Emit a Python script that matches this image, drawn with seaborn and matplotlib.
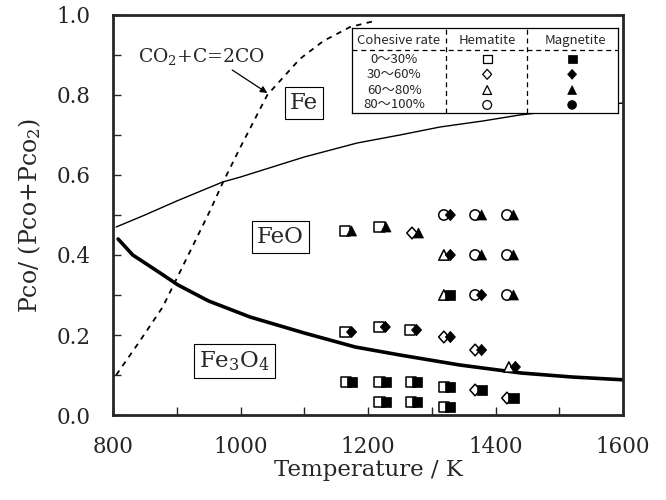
import numpy as np
import pandas as pd
import matplotlib
matplotlib.use("Agg")
import matplotlib.pyplot as plt
from matplotlib.ticker import MultipleLocator, FormatStrFormatter
from matplotlib.transforms import offset_copy, Affine2D
from matplotlib.markers import MarkerStyle
import seaborn as sns

# phase boundary Fe / FeO (thin solid)
fe_feo_T = [805, 850, 900, 972, 1000, 1100, 1183, 1250, 1313, 1380, 1438, 1520, 1600]
fe_feo_y = [0.47, 0.50, 0.535, 0.5825, 0.595, 0.645, 0.68, 0.70, 0.72, 0.735, 0.75, 0.765, 0.78]

# phase boundary FeO / Fe3O4 (thick solid)
feo_fe3o4_T = [808, 831, 874, 902, 950, 1015, 1100, 1180, 1250, 1344, 1440, 1520, 1600]
feo_fe3o4_y = [0.44, 0.40, 0.355, 0.325, 0.285, 0.245, 0.205, 0.17, 0.15, 0.125, 0.105, 0.095, 0.088]

# Boudouard equilibrium CO2 + C = 2CO (dashed)
boud_T = [805, 840, 878, 915, 952, 972, 1000, 1042, 1093, 1130, 1172, 1210]
boud_y = [0.10, 0.18, 0.27, 0.39, 0.51, 0.58, 0.67, 0.80, 0.89, 0.935, 0.97, 0.985]

rates = ['0～30%', '30～60%', '60～80%', '80～100%']
diamond = MarkerStyle('D', transform=Affine2D().scale(0.72, 0.8))
rate_markers = {'0～30%': 's', '30～60%': diamond, '60～80%': '^', '80～100%': 'o'}

# experimental points: temperature, Pco ratio, hematite class, magnetite class
pt_T = [1169, 1223, 1274, 1169, 1222, 1271, 1170, 1223, 1272, 1223, 1272,
        1324, 1373, 1423, 1324, 1373, 1423, 1324, 1373, 1423,
        1324, 1373, 1426, 1324, 1373, 1423, 1324]
pt_y = [0.46, 0.47, 0.455, 0.2075, 0.22, 0.2125, 0.0825, 0.0825, 0.0825, 0.0325, 0.0325,
        0.50, 0.50, 0.50, 0.40, 0.40, 0.40, 0.30, 0.30, 0.30,
        0.195, 0.1625, 0.12, 0.07, 0.0625, 0.0425, 0.02]
pt_hem = ['0～30%', '0～30%', '30～60%', '0～30%', '0～30%', '0～30%', '0～30%', '0～30%', '0～30%', '0～30%', '0～30%',
          '80～100%', '80～100%', '80～100%', '60～80%', '80～100%', '80～100%', '60～80%', '80～100%', '80～100%',
          '30～60%', '30～60%', '60～80%', '0～30%', '30～60%', '30～60%', '0～30%']
pt_mag = ['60～80%', '60～80%', '60～80%', '30～60%', '30～60%', '30～60%', '0～30%', '0～30%', '0～30%', '0～30%', '0～30%',
          '30～60%', '60～80%', '60～80%', '30～60%', '60～80%', '60～80%', '0～30%', '30～60%', '60～80%',
          '30～60%', '30～60%', '30～60%', '0～30%', '0～30%', '0～30%', '0～30%']

pts = pd.DataFrame({'T': pt_T, 'y': pt_y, 'hem': pt_hem, 'mag': pt_mag})

sns.set_style('ticks')
plt.rcParams['font.family'] = ['DejaVu Serif']
plt.rcParams['mathtext.fontset'] = 'dejavuserif'

fig = plt.figure(figsize=(6.66, 5), dpi=100)
ax = fig.add_axes([113 / 666, 85 / 500, 510 / 666, 400 / 500])

sns.lineplot(x=fe_feo_T, y=fe_feo_y, ax=ax, color='black', lw=1.0, sort=False)
sns.lineplot(x=feo_fe3o4_T, y=feo_fe3o4_y, ax=ax, color='black', lw=2.6, sort=False)
sns.lineplot(x=boud_T, y=boud_y, ax=ax, color='black', lw=1.3, sort=False,
             linestyle=(0, (3, 3)))

# hematite (open) slightly left, magnetite (filled) slightly right, overlapping
sns.scatterplot(data=pts, x='T', y='y', style='hem', markers=rate_markers, ax=ax,
                color='white', edgecolor='black', linewidth=1.1, s=55, legend=False, zorder=3)
ax.collections[-1].set_offset_transform(offset_copy(ax.transData, fig=fig, x=-2.3, y=0, units='points'))
sns.scatterplot(data=pts, x='T', y='y', style='mag', markers=rate_markers, ax=ax,
                color='black', edgecolor='black', linewidth=0.5, s=52, legend=False, zorder=4)
ax.collections[-1].set_offset_transform(offset_copy(ax.transData, fig=fig, x=2.4, y=0, units='points'))

ax.set_xlim(800, 1600)
ax.set_ylim(0, 1.0)
ax.xaxis.set_major_locator(MultipleLocator(200))
ax.xaxis.set_minor_locator(MultipleLocator(100))
ax.yaxis.set_major_locator(MultipleLocator(0.2))
ax.yaxis.set_minor_locator(MultipleLocator(0.1))
ax.yaxis.set_major_formatter(FormatStrFormatter('%.1f'))
ax.tick_params(which='both', direction='in', length=6, width=1.0, labelsize=15.5)
ax.tick_params(axis='y', which='major', pad=16)
ax.tick_params(axis='x', which='major', pad=15)
for sp in ax.spines.values():
    sp.set_linewidth(2.0)

ax.set_xlabel('Temperature / K', fontsize=16.5, labelpad=1)
ax.set_ylabel('Pco/ (Pco+Pco$_2$)', fontsize=17, labelpad=10)

box = dict(boxstyle='square,pad=0.22', fc='white', ec='black', lw=0.8)
ax.text(1099, 0.78, 'Fe', fontsize=16.5, ha='center', va='center', bbox=box)
ax.text(1062, 0.445, 'FeO', fontsize=16.5, ha='center', va='center', bbox=box)
ax.text(991, 0.135, 'Fe$_3$O$_4$', fontsize=16.5, ha='center', va='center', bbox=box)

ax.text(839, 0.895, 'CO$_2$+C=2CO', fontsize=13.5, ha='left', va='center')
ax.annotate('', xy=(1042, 0.805), xytext=(987, 0.8625),
            arrowprops=dict(arrowstyle='-|>', color='black', lw=0.9, mutation_scale=10,
                            shrinkA=0, shrinkB=0))

# legend table
lg = ax.inset_axes([0.468, 0.755, 0.522, 0.2125])
lg.set_facecolor('white')
lg.set_xlim(0, 1)
lg.set_ylim(0, 1)
lg.set_xticks([])
lg.set_yticks([])
for sp in lg.spines.values():
    sp.set_linewidth(0.9)
    sp.set_color('black')
lg.axhline(0.741, color='black', lw=0.9, ls=(0, (4, 3)))
lg.axvline(0.356, color='black', lw=0.9, ls=(0, (4, 3)))
lg.axvline(0.659, color='black', lw=0.9, ls=(0, (4, 3)))

cjk = ['Noto Sans CJK JP', 'DejaVu Sans']
hy = 0.855
lg.text(0.175, hy, 'Cohesive rate', family=cjk, fontsize=9.5, ha='center', va='center')
lg.text(0.509, hy, 'Hematite', family=cjk, fontsize=9.5, ha='center', va='center')
lg.text(0.84, hy, 'Magnetite', family=cjk, fontsize=9.5, ha='center', va='center')

row_y = [0.635, 0.455, 0.27, 0.095]
leg = pd.DataFrame({'rate': rates, 'ry': row_y, 'hx': [0.509] * 4, 'mx': [0.828] * 4})
for r, yy in zip(rates, row_y):
    lg.text(0.16, yy, r, family=cjk, fontsize=9.5, ha='center', va='center')
sns.scatterplot(data=leg, x='hx', y='ry', style='rate', markers=rate_markers, ax=lg,
                color='white', edgecolor='black', linewidth=0.9, s=40, legend=False)
sns.scatterplot(data=leg, x='mx', y='ry', style='rate', markers=rate_markers, ax=lg,
                color='black', edgecolor='black', linewidth=0.5, s=40, legend=False)
lg.set_xlabel('')
lg.set_ylabel('')

fig.savefig('out.png', dpi=100)
